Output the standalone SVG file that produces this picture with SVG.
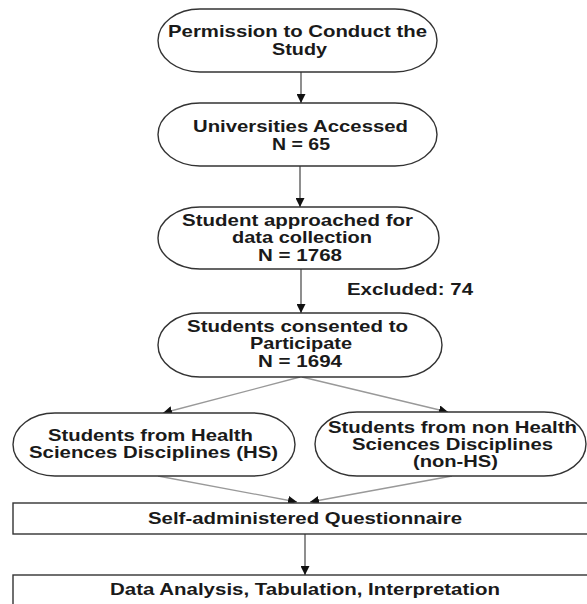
<svg xmlns="http://www.w3.org/2000/svg" width="587" height="604" viewBox="0 0 587 604">
<style>
.node{fill:#fff;stroke:#333;stroke-width:1.4}
.t{font-family:"Liberation Sans",Arial,sans-serif;font-weight:bold;font-size:16.5px;fill:#1a1a1a}
.c{fill:none;stroke:#444;stroke-width:1.2}
.g{fill:none;stroke:#999;stroke-width:1.3}
</style>
<defs>
<marker id="ah" viewBox="0 0 10 10" refX="10" refY="5" markerWidth="9" markerHeight="9" markerUnits="userSpaceOnUse" orient="auto">
<path d="M0,0 L10,5 L0,10 z" fill="#111"/>
</marker>
</defs>
<rect width="587" height="604" fill="#fff"/>
<g id="connectors">
<line class="c" x1="301" y1="72" x2="301" y2="103" marker-end="url(#ah)"/>
<line class="c" x1="300" y1="166" x2="300" y2="207" marker-end="url(#ah)"/>
<line class="c" x1="301" y1="269" x2="301" y2="313" marker-end="url(#ah)"/>
<line class="g" x1="300" y1="377" x2="163" y2="413" marker-end="url(#ah)"/>
<line class="g" x1="302" y1="377" x2="448" y2="412" marker-end="url(#ah)"/>
<line class="g" x1="158" y1="476" x2="297" y2="502" marker-end="url(#ah)"/>
<line class="g" x1="452" y1="476" x2="310" y2="502" marker-end="url(#ah)"/>
<line class="c" x1="305" y1="534" x2="305" y2="575" marker-end="url(#ah)"/>
</g>
<g id="permission">
<rect class="node" x="158" y="9" width="279" height="63" rx="42" ry="31.5"/>
<text class="t" x="168" y="37" textLength="259" lengthAdjust="spacingAndGlyphs">Permission to Conduct the</text>
<text class="t" x="272" y="55" textLength="55" lengthAdjust="spacingAndGlyphs">Study</text>
</g>
<g id="universities">
<rect class="node" x="158" y="103" width="279" height="63" rx="42" ry="31.5"/>
<text class="t" x="193" y="132" textLength="215" lengthAdjust="spacingAndGlyphs">Universities Accessed</text>
<text class="t" x="272" y="150" textLength="58" lengthAdjust="spacingAndGlyphs">N = 65</text>
</g>
<g id="approached">
<rect class="node" x="158" y="207" width="281" height="62" rx="42" ry="31"/>
<text class="t" x="182" y="226" textLength="231" lengthAdjust="spacingAndGlyphs">Student approached for</text>
<text class="t" x="232" y="243" textLength="140" lengthAdjust="spacingAndGlyphs">data collection</text>
<text class="t" x="258" y="261" textLength="84" lengthAdjust="spacingAndGlyphs">N = 1768</text>
</g>
<g id="excluded">
<text class="t" x="347" y="295" textLength="126" lengthAdjust="spacingAndGlyphs">Excluded: 74</text>
</g>
<g id="consented">
<rect class="node" x="158" y="313" width="284" height="64" rx="42" ry="32"/>
<text class="t" x="187" y="332" textLength="221" lengthAdjust="spacingAndGlyphs">Students consented to</text>
<text class="t" x="250" y="349" textLength="102" lengthAdjust="spacingAndGlyphs">Participate</text>
<text class="t" x="258" y="367" textLength="84" lengthAdjust="spacingAndGlyphs">N = 1694</text>
</g>
<g id="hs">
<rect class="node" x="13" y="413" width="282" height="63" rx="42" ry="31.5"/>
<text class="t" x="48" y="441" textLength="205" lengthAdjust="spacingAndGlyphs">Students from Health</text>
<text class="t" x="29" y="458" textLength="249" lengthAdjust="spacingAndGlyphs">Sciences Disciplines (HS)</text>
</g>
<g id="nonhs">
<rect class="node" x="315" y="412" width="271" height="64" rx="42" ry="32"/>
<text class="t" x="328" y="433" textLength="249" lengthAdjust="spacingAndGlyphs">Students from non Health</text>
<text class="t" x="352" y="450" textLength="201" lengthAdjust="spacingAndGlyphs">Sciences Disciplines</text>
<text class="t" x="413" y="467" textLength="85" lengthAdjust="spacingAndGlyphs">(non-HS)</text>
</g>
<g id="questionnaire">
<rect class="node" x="13" y="503" width="590" height="31"/>
<text class="t" x="148" y="524" textLength="314" lengthAdjust="spacingAndGlyphs">Self-administered Questionnaire</text>
</g>
<g id="analysis">
<rect class="node" x="13" y="575" width="590" height="40"/>
<text class="t" x="110" y="595" textLength="390" lengthAdjust="spacingAndGlyphs">Data Analysis, Tabulation, Interpretation</text>
</g>
</svg>
